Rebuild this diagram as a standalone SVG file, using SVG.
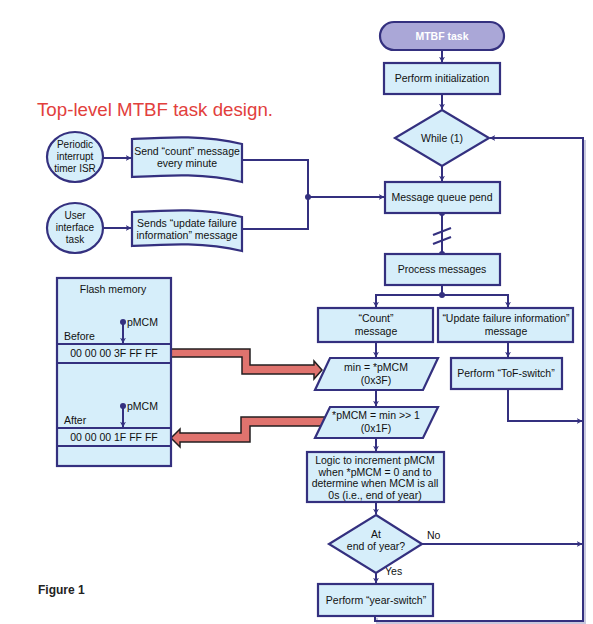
<svg xmlns="http://www.w3.org/2000/svg" width="593" height="624" viewBox="0 0 593 624">
<style>
.box{fill:#d6eefa;stroke:#34307f;stroke-width:2.2}
.ln{fill:none;stroke:#34307f;stroke-width:2}
.t{font-family:"Liberation Sans",Arial,sans-serif;font-size:10.5px;fill:#111;text-anchor:middle}
.ts{font-family:"Liberation Sans",Arial,sans-serif;font-size:10px;fill:#111;text-anchor:middle}
.tl{font-family:"Liberation Sans",Arial,sans-serif;font-size:10.5px;fill:#111}
.dot{fill:#34307f}
.red{fill:#e0736e;stroke:#231f20;stroke-width:1.5}
</style>
<defs>
<marker id="ah" viewBox="0 0 10 10" refX="9" refY="5" markerWidth="6" markerHeight="6" orient="auto" markerUnits="userSpaceOnUse">
<path d="M0,0 L10,5 L0,10 L3,5 z" fill="#34307f"/>
</marker>
</defs>
<rect width="593" height="624" fill="#fff"/>
<text x="37" y="116" font-family="Liberation Sans,Arial,sans-serif" font-size="19" fill="#e2403c" textLength="236" lengthAdjust="spacingAndGlyphs">Top-level MTBF task design.</text>
<text x="38" y="594" font-family="Liberation Sans,Arial,sans-serif" font-size="12" font-weight="bold" fill="#222">Figure 1</text>

<g id="connectors">
<line class="ln" x1="442" y1="50" x2="442" y2="62" marker-end="url(#ah)"/>
<line class="ln" x1="442" y1="94" x2="442" y2="109" marker-end="url(#ah)"/>
<line class="ln" x1="442" y1="166" x2="442" y2="181" marker-end="url(#ah)"/>
<line class="ln" x1="103" y1="158" x2="131" y2="158" marker-end="url(#ah)"/>
<line class="ln" x1="103" y1="228" x2="131" y2="228" marker-end="url(#ah)"/>
<polyline class="ln" points="242,160 308,160 308,229 242,229"/>
<line class="ln" x1="308" y1="197" x2="384" y2="197" marker-end="url(#ah)"/>
<circle class="dot" cx="308" cy="197" r="3"/>
<line class="ln" x1="442" y1="213" x2="442" y2="254"/>
<line class="ln" x1="433" y1="235" x2="451" y2="228"/>
<line class="ln" x1="433" y1="244" x2="451" y2="237"/>
<circle class="dot" cx="442" cy="213" r="3"/>
<circle class="dot" cx="442" cy="254" r="3"/>
<line class="ln" x1="442" y1="285" x2="442" y2="295"/>
<polyline class="ln" points="376,307 376,295 508,295 508,307" marker-end="url(#ah)"/>
<line class="ln" x1="376" y1="297" x2="376" y2="307" marker-end="url(#ah)"/>
<circle class="dot" cx="442" cy="295" r="3"/>
<line class="ln" x1="376" y1="342" x2="376" y2="357" marker-end="url(#ah)"/>
<line class="ln" x1="508" y1="342" x2="508" y2="357" marker-end="url(#ah)"/>
<line class="ln" x1="376" y1="390" x2="376" y2="406" marker-end="url(#ah)"/>
<line class="ln" x1="376" y1="438" x2="376" y2="451" marker-end="url(#ah)"/>
<line class="ln" x1="376" y1="502" x2="376" y2="514" marker-end="url(#ah)"/>
<line class="ln" x1="376" y1="573" x2="376" y2="583" marker-end="url(#ah)"/>
<polyline class="ln" points="508,389 508,421 582,421" marker-end="url(#ah)"/>
<line class="ln" x1="422" y1="544" x2="582" y2="544" marker-end="url(#ah)"/>
<polyline points="377,618 377,623 585,623 585,140" fill="none" stroke="#c9c9de" stroke-width="2"/>
<polyline class="ln" points="375,616 375,621 583,621 583,138 490,138" marker-end="url(#ah)"/>
<path class="red" d="M171,349 L250,349 L250,365 L314,365 L314,361 L322,370 L314,379 L314,374 L242,374 L242,357 L171,357 Z"/>
<path class="red" d="M328,417 L241,417 L241,433 L180,433 L180,429 L171,438 L180,447 L180,442 L250,442 L250,426 L328,426 Z"/>
<text class="tl" x="427" y="539">No</text>
<text class="tl" x="385" y="575">Yes</text>
</g>

<g id="mtbf-task">
<rect x="380" y="22" width="124" height="28" rx="14" fill="#aaa7d7" stroke="#34307f" stroke-width="2.2"/>
<text class="t" x="442" y="40" style="fill:#fff;font-weight:bold">MTBF task</text>
</g>
<g id="init">
<rect class="box" x="384" y="63" width="116" height="31"/>
<text class="t" x="442" y="82">Perform initialization</text>
</g>
<g id="while">
<polygon class="box" points="442,110 489,138 442,166 395,138"/>
<text class="t" x="442" y="142">While (1)</text>
</g>
<g id="timer-isr">
<ellipse class="box" cx="75" cy="157" rx="28" ry="25"/>
<text class="ts" x="75" y="148">Periodic</text>
<text class="ts" x="75" y="160">interrupt</text>
<text class="ts" x="75" y="172">timer ISR</text>
</g>
<g id="ui-task">
<ellipse class="box" cx="75" cy="228" rx="28" ry="25"/>
<text class="ts" x="75" y="219">User</text>
<text class="ts" x="75" y="231">interface</text>
<text class="ts" x="75" y="243">task</text>
</g>
<g id="send-count">
<path class="box" d="M132,139 C170,137 205,135 242,144 L242,182 C205,173 170,175 132,177 Z"/>
<text class="t" x="187" y="155">Send “count” message</text>
<text class="t" x="187" y="167">every minute</text>
</g>
<g id="send-update">
<path class="box" d="M132,212 C170,210 205,208 242,217 L242,251 C205,242 170,244 132,246 Z"/>
<text class="t" x="187" y="227">Sends “update failure</text>
<text class="t" x="187" y="239">information” message</text>
</g>
<g id="queue-pend">
<rect class="box" x="385" y="182" width="115" height="31"/>
<text class="t" x="442" y="201">Message queue pend</text>
</g>
<g id="process">
<rect class="box" x="385" y="254" width="115" height="31"/>
<text class="t" x="442" y="273">Process messages</text>
</g>
<g id="count-msg">
<rect class="box" x="318" y="308" width="115" height="34"/>
<text class="t" x="376" y="322">“Count”</text>
<text class="t" x="376" y="335">message</text>
</g>
<g id="update-msg">
<rect class="box" x="438" y="308" width="135" height="34"/>
<text class="t" x="506" y="322">“Update failure information”</text>
<text class="t" x="506" y="335">message</text>
</g>
<g id="min-read">
<polygon class="box" points="330,358 438,358 423,390 315,390"/>
<text class="t" x="376" y="371">min = *pMCM</text>
<text class="t" x="376" y="384">(0x3F)</text>
</g>
<g id="tof-switch">
<rect class="box" x="451" y="358" width="111" height="31"/>
<text class="t" x="506" y="377">Perform “ToF-switch”</text>
</g>
<g id="min-write">
<polygon class="box" points="330,407 438,407 423,438 315,438"/>
<text class="t" x="376" y="419">*pMCM = min &gt;&gt; 1</text>
<text class="t" x="376" y="432">(0x1F)</text>
</g>
<g id="logic">
<rect class="box" x="307" y="452" width="137" height="50"/>
<text class="t" x="375" y="464">Logic to increment pMCM</text>
<text class="t" x="375" y="476">when *pMCM = 0 and to</text>
<text class="t" x="375" y="487">determine when MCM is all</text>
<text class="t" x="375" y="499">0s (i.e., end of year)</text>
</g>
<g id="end-of-year">
<polygon class="box" points="376,515 422,544 376,573 329,544"/>
<text class="t" x="376" y="538">At</text>
<text class="t" x="376" y="550">end of year?</text>
</g>
<g id="year-switch">
<rect class="box" x="318" y="584" width="115" height="32"/>
<text class="t" x="376" y="604">Perform “year-switch”</text>
</g>
<g id="flash-memory">
<rect class="box" x="57" y="278" width="114" height="188"/>
<line class="ln" x1="57" y1="344" x2="171" y2="344"/>
<line class="ln" x1="57" y1="363" x2="171" y2="363"/>
<line class="ln" x1="57" y1="428" x2="171" y2="428"/>
<line class="ln" x1="57" y1="446" x2="171" y2="446"/>
<line class="ln" x1="123" y1="322" x2="123" y2="343" marker-end="url(#ah)"/>
<circle class="dot" cx="123" cy="322" r="3"/>
<line class="ln" x1="123" y1="406" x2="123" y2="427" marker-end="url(#ah)"/>
<circle class="dot" cx="123" cy="406" r="3"/>
<text class="t" x="113" y="293">Flash memory</text>
<text class="tl" x="64" y="340">Before</text>
<text class="tl" x="127" y="326">pMCM</text>
<text class="t" x="114" y="357">00 00 00 3F FF FF</text>
<text class="tl" x="64" y="424">After</text>
<text class="tl" x="127" y="410">pMCM</text>
<text class="t" x="114" y="441">00 00 00 1F FF FF</text>
</g>
</svg>
